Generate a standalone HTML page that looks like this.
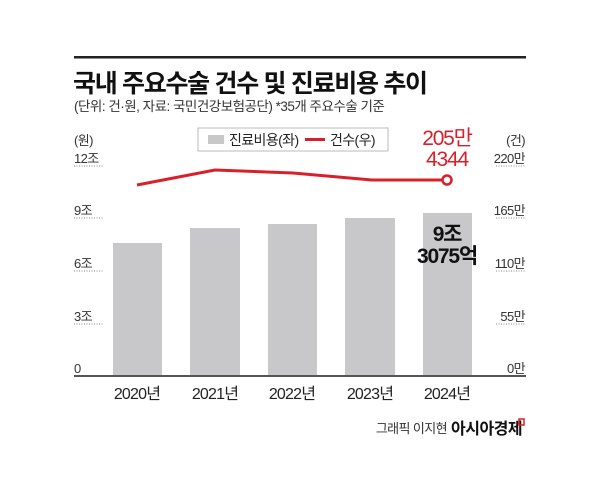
<!DOCTYPE html>
<html><head><meta charset="utf-8"><style>
body{margin:0;background:#fff;}
svg{display:block;font-family:"Liberation Sans","Noto Sans CJK KR",sans-serif;}
</style></head><body>
<svg width="600" height="494" viewBox="0 0 600 494">
<rect width="600" height="494" fill="#fff"/>
<rect x="74" y="56" width="452" height="2.5" fill="#222"/>
<text x="73" y="92" font-size="25" font-weight="bold" fill="#111" letter-spacing="-1.3">국내 주요수술 건수 및 진료비용 추이</text>
<text x="74" y="111" font-size="13.5" fill="#333" letter-spacing="-0.5">(단위: 건·원, 자료: 국민건강보험공단)  *35개 주요수술 기준</text>
<rect x="198" y="128" width="190" height="23" fill="#fff" stroke="#bbb"/>
<rect x="208" y="135" width="16" height="9" fill="#c8c8c8"/>
<text x="229" y="145" font-size="14" fill="#222" letter-spacing="-0.6">진료비용(좌)</text>
<rect x="305" y="138" width="20" height="3" fill="#d9202a"/>
<text x="330" y="145" font-size="14" fill="#222" letter-spacing="-0.6">건수(우)</text>
<g font-size="13" fill="#333" letter-spacing="-0.6">
<text x="74" y="145">(원)</text>
<text x="74" y="163">12조</text>
<text x="74" y="215">9조</text>
<text x="74" y="268">6조</text>
<text x="74" y="321">3조</text>
<text x="74" y="373">0</text>
<g text-anchor="end">
<text x="525" y="145">(건)</text>
<text x="525" y="163">220만</text>
<text x="525" y="215">165만</text>
<text x="525" y="268">110만</text>
<text x="525" y="321">55만</text>
<text x="525" y="373">0만</text>
</g></g>
<g stroke="#888" stroke-width="1" stroke-dasharray="1,1.5">
<line x1="74" y1="166" x2="103" y2="166"/><line x1="74" y1="218" x2="103" y2="218"/>
<line x1="74" y1="271" x2="103" y2="271"/><line x1="74" y1="324" x2="103" y2="324"/>
<line x1="496" y1="166" x2="525" y2="166"/><line x1="496" y1="218" x2="525" y2="218"/>
<line x1="496" y1="271" x2="525" y2="271"/><line x1="496" y1="324" x2="525" y2="324"/>
</g>
<g fill="#c8c8ca">
<rect x="113" y="243" width="49" height="133"/>
<rect x="190" y="228" width="50" height="148"/>
<rect x="268" y="224" width="49" height="152"/>
<rect x="345" y="218" width="50" height="158"/>
<rect x="423" y="213" width="49" height="163"/>
</g>
<rect x="74" y="375" width="452" height="2" fill="#555"/>
<g font-size="16" fill="#222" text-anchor="middle" letter-spacing="-0.8">
<text x="137" y="399">2020년</text><text x="215" y="399">2021년</text>
<text x="292" y="399">2022년</text><text x="370" y="399">2023년</text>
<text x="447" y="399">2024년</text>
</g>
<g font-size="21" font-weight="bold" fill="#111" text-anchor="middle" letter-spacing="-1.2">
<text x="447" y="241">9조</text><text x="447" y="263">3075억</text>
</g>
<polyline points="137,185 215,170 293,173 372,180 447,180" fill="none" stroke="#d9202a" stroke-width="3"/>
<circle cx="447" cy="180" r="4.5" fill="#fff" stroke="#d9202a" stroke-width="2.5"/>
<g font-size="21" fill="#d9202a" text-anchor="middle" letter-spacing="-1.2">
<text x="447" y="145">205만</text><text x="447" y="166">4344</text>
</g>
<text x="447" y="433" font-size="13" fill="#333" text-anchor="end" letter-spacing="-0.6">그래픽 이지현</text>
<text x="451" y="434" font-size="16" font-weight="bold" fill="#111" letter-spacing="-0.5">아시아경제</text>
<rect x="519" y="419" width="5" height="6" fill="none" stroke="#d9202a" stroke-width="1.5"/>
</svg>
</body></html>
